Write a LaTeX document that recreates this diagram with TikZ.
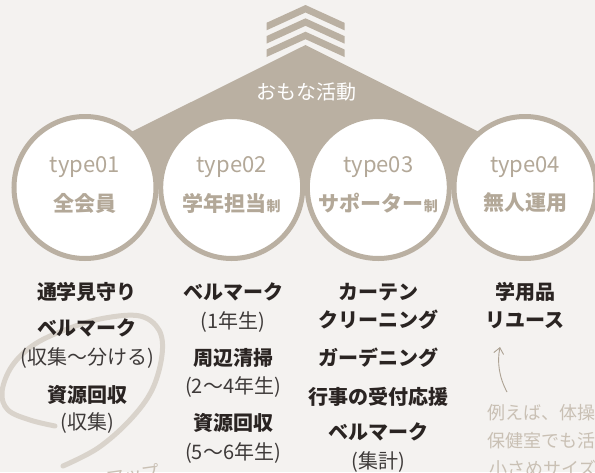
\documentclass[tikz,border=0pt]{standalone}
\usepackage{fontspec}
\setmainfont{Noto Sans CJK JP}
\usepackage{tikz}
\usetikzlibrary{arrows.meta}
\usepackage{xcolor}

\definecolor{bgcol}{HTML}{F4F2F0}
\definecolor{roofcol}{HTML}{BAB0A2}
\definecolor{tagcol}{HTML}{B3A898}
\definecolor{inkcol}{HTML}{2A2422}
\definecolor{subcol}{HTML}{3E3A39}
\definecolor{swirlcol}{HTML}{D9D3CB}
\definecolor{handcol}{HTML}{C9C0B4}
\definecolor{arrowcol}{HTML}{ADA293}

\tikzset{
    ring/.style={circle, draw=roofcol, fill=white, line width=5pt, minimum size=142pt, inner sep=0pt},
    tag/.style={text=tagcol, inner sep=0pt, font=\fontsize{22}{22}\selectfont},
    kind/.style={text=tagcol, inner sep=0pt, font=\fontsize{21}{21}\selectfont\bfseries},
    job/.style={text=inkcol, inner sep=0pt, font=\fontsize{20}{20}\selectfont\bfseries},
    who/.style={text=subcol, inner sep=0pt, font=\fontsize{20}{20}\selectfont},
    hand/.style={text=handcol, inner sep=0pt, font=\fontsize{18}{18}\selectfont}
}

\newcommand{\smallsei}{{\fontsize{14}{14}\selectfont 制}}

\begin{document}
\begin{tikzpicture}[x=1pt, y=-1pt]
    % Fond
    \useasboundingbox (0,0) rectangle (595,472);
    \fill[bgcol] (0,0) rectangle (595,472);
    \clip (0,0) rectangle (595,472);

    % Chevrons
    \foreach \t in {5,18.3,31.7}
        \fill[roofcol] (266.5,\t+17.8) -- (305.5,\t) -- (344.5,\t+17.8)
            -- (344.5,\t+25.3) -- (305.5,\t+7.5) -- (266.5,\t+25.3) -- cycle;

    % Toit
    \fill[roofcol] (305.5,45) -- (85,155) -- (85,187.5) -- (525,187.5) -- (525,155) -- cycle;
    \node[text=white, inner sep=0pt, font=\fontsize{20}{20}\selectfont] (roof) at (306,92) {おもな活動};

    % Cercles
    \node[ring] (ring1) at (85,187.5) {};
    \node[ring] (ring2) at (231.7,187.5) {};
    \node[ring] (ring3) at (378.3,187.5) {};
    \node[ring] (ring4) at (525,187.5) {};

    \node[tag] (tag1) at (85,167) {type01};
    \node[tag] (tag2) at (231.7,167) {type02};
    \node[tag] (tag3) at (378.3,167) {type03};
    \node[tag] (tag4) at (525,167) {type04};

    \node[kind] (kind1) at (85,203) {全会員};
    \node[kind] (kind2) at (231.7,203) {学年担当\smallsei};
    \node[kind] (kind3) at (378.3,203) {サポーター\smallsei};
    \node[kind] (kind4) at (525,203) {無人運用};

    % Boucle
    \draw[swirlcol, line width=5pt, line cap=round] plot[smooth, tension=0.6] coordinates {
        (55,426) (30,420) (8,410) (2,392) (12,366) (35,344) (70,328) (105,318)
        (140,316) (159,330) (162,355) (152,390) (130,420) (98,448) (63,466)};
    \node[hand, rotate=8] (up) at (133,475) {アップ};

    % Colonne 1
    \node[job] (c1a) at (87,292) {通学見守り};
    \node[job] (c1b) at (87,328) {ベルマーク};
    \node[who] (c1c) at (87,358) {(収集～分ける)};
    \node[job] (c1d) at (87,395) {資源回収};
    \node[who] (c1e) at (87,423) {(収集)};

    % Colonne 2
    \node[job] (c2a) at (233,292) {ベルマーク};
    \node[who] (c2b) at (233,322) {(1年生)};
    \node[job] (c2c) at (233,358) {周辺清掃};
    \node[who] (c2d) at (233,387) {(2～4年生)};
    \node[job] (c2e) at (233,423) {資源回収};
    \node[who] (c2f) at (233,453) {(5～6年生)};

    % Colonne 3
    \node[job] (c3a) at (378,292) {カーテン};
    \node[job] (c3b) at (378,320) {クリーニング};
    \node[job] (c3c) at (378,358) {ガーデニング};
    \node[job] (c3d) at (378,397) {行事の受付応援};
    \node[job] (c3e) at (378,432) {ベルマーク};
    \node[who] (c3f) at (378,462) {(集計)};

    % Colonne 4
    \node[job] (c4a) at (525,292) {学用品};
    \node[job] (c4b) at (525,320) {リユース};

    % Note
    \node[hand, anchor=west] (note1) at (487,413) {例えば、体操服};
    \node[hand, anchor=west] (note2) at (487,441) {保健室でも活用};
    \node[hand, anchor=west] (note3) at (489,469) {小さめサイズ120};
    \coordinate (tail) at (507,392);
    \coordinate (head) at (500,347);
    \draw[arrowcol, line width=0.9pt, -{Straight Barb[length=6pt, width=10pt]}]
        (tail) .. controls (499,377) and (497,362) .. (head);
\end{tikzpicture}
\end{document}
